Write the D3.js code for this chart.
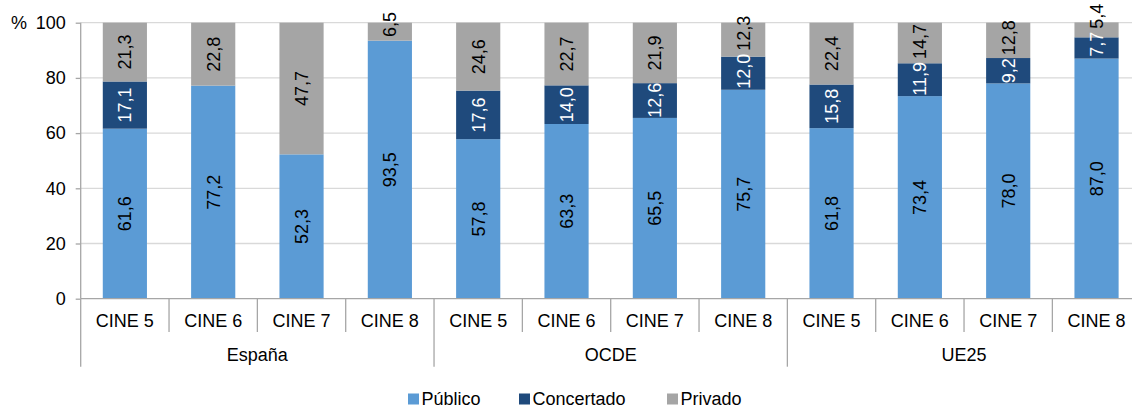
<!DOCTYPE html>
<html><head><meta charset="utf-8">
<script src="https://cdn.jsdelivr.net/npm/d3@7"></script>
<style>
html,body{margin:0;padding:0;background:#fff;}
svg{display:block;font-family:"Liberation Sans",Arial,sans-serif;}
</style></head>
<body><svg id="c" width="1132" height="409"></svg>
<script>
const groups = ["España","OCDE","UE25"];
const levels = ["CINE 5","CINE 6","CINE 7","CINE 8"];
const seriesNames = ["Público","Concertado","Privado"];
const publico    = [61.6,77.2,52.3,93.5, 57.8,63.3,65.5,75.7, 61.8,73.4,78.0,87.0];
const concertado = [17.1,null,null,null, 17.6,14.0,12.6,12.0, 15.8,11.9,9.2,7.7];
const privado    = [21.3,22.8,47.7,6.5, 24.6,22.7,21.9,12.3, 22.4,14.7,12.8,5.4];
const yTicks = [0,20,40,60,80,100];

const colors = ["#5B9BD5","#1F4A7C","#A5A5A5"];
const labelColors = ["#000","#fff","#000"];
const FS = 18;

const svg = d3.select("#c");
const pLeft = 80.7, pRight = 1140.7, pTop = 22.7, pBottom = 298.7;

const keys = [];
groups.forEach(g => levels.forEach(l => keys.push(g + "|" + l)));
const rows = keys.map((k,i) => ({key:k, group:k.split("|")[0], level:k.split("|")[1],
  vals:[publico[i], concertado[i], privado[i]]}));

const x = d3.scaleBand().domain(keys).range([pLeft,pRight]).paddingInner(0.5).paddingOuter(0.25);
const y = d3.scaleLinear().domain([0,100]).range([pBottom,pTop]);

// gridlines
svg.append("g").selectAll("line").data(yTicks.filter(t=>t>0)).join("line")
  .attr("x1",pLeft).attr("x2",pRight).attr("y1",d=>y(d)).attr("y2",d=>y(d))
  .attr("stroke","#D9D9D9").attr("stroke-width",1.3);

// y axis
const yAxis = d3.axisLeft(y).tickValues(yTicks).tickSize(5).tickPadding(10);
const yg = svg.append("g").attr("transform",`translate(${pLeft},0)`).call(yAxis);
yg.select(".domain").remove();
yg.selectAll(".tick line").attr("stroke","#A6A6A6").attr("stroke-width",1.3);
yg.selectAll(".tick text").attr("font-size",FS).attr("fill","#000").attr("font-family","Liberation Sans, Arial, sans-serif");
svg.append("text").attr("x",11).attr("y",y(100)).attr("dy","0.35em").attr("font-size",FS).text("%");

// stacked segments
const fmt = v => v.toFixed(1).replace(".", ",");
const segs = [];
rows.forEach(r => {
  let acc = 0;
  r.vals.forEach((v,si) => {
    if (v == null) return;
    segs.push({key:r.key, si, y0:acc, y1:acc+v, v});
    acc += v;
  });
});
svg.append("g").selectAll("rect").data(segs).join("rect")
  .attr("x",d=>x(d.key)).attr("width",x.bandwidth())
  .attr("y",d=>y(d.y1)).attr("height",d=>y(d.y0)-y(d.y1))
  .attr("fill",d=>colors[d.si]);

// data labels (centered; top label nudged up when cramped)
const labels = svg.append("g").selectAll("text").data(segs).join("text")
  .attr("text-anchor","middle").attr("dy","0.35em")
  .attr("font-size",FS).attr("fill",d=>labelColors[d.si])
  .text(d=>fmt(d.v));
labels.each(function(d){ d.len = this.getComputedTextLength(); d.cy = y((d.y0+d.y1)/2); });
d3.group(segs, d=>d.key).forEach(list => {
  for (let i = 1; i < list.length; i++) {
    const lo = list[i-1], hi = list[i];
    const segH = y(hi.y0) - y(hi.y1);
    if (hi.len > segH) hi.cy -= (hi.len - segH);
    const need = (lo.len + hi.len)/2 + 3;
    if (lo.cy - hi.cy < need) hi.cy = lo.cy - need;
  }
});
labels.attr("transform",d=>`translate(${x(d.key)+x.bandwidth()/2},${d.cy}) rotate(-90)`);

// x axis lines
const axisCol = "#A6A6A6";
svg.append("line").attr("x1",pLeft).attr("x2",pRight).attr("y1",pBottom).attr("y2",pBottom)
  .attr("stroke",axisCol).attr("stroke-width",1.3);
svg.append("line").attr("x1",pLeft).attr("x2",pLeft).attr("y1",pTop).attr("y2",pBottom)
  .attr("stroke",axisCol).attr("stroke-width",1.3);
const step = x.step();
const lvl1 = 332, lvl2 = 366.7;
const boundaries = d3.range(keys.length+1).map(i => pLeft + i*step);
svg.append("g").selectAll("line").data(boundaries).join("line")
  .attr("x1",d=>d).attr("x2",d=>d).attr("y1",pBottom)
  .attr("y2",(d,i)=> (i % levels.length === 0) ? lvl2 : lvl1)
  .attr("stroke",axisCol).attr("stroke-width",1.3);

// category labels
svg.append("g").selectAll("text").data(rows).join("text")
  .attr("x",d=>x(d.key)+x.bandwidth()/2).attr("y",320.5).attr("dy","0.35em")
  .attr("text-anchor","middle").attr("font-size",FS).text(d=>d.level);
// group labels
svg.append("g").selectAll("text").data(groups).join("text")
  .attr("x",(g,i)=> pLeft + (i*levels.length + levels.length/2)*step).attr("y",355).attr("dy","0.35em")
  .attr("text-anchor","middle").attr("font-size",FS).text(d=>d);

// legend
const legX = [408, 519, 667];
const lg = svg.append("g").selectAll("g").data(seriesNames).join("g")
  .attr("transform",(d,i)=>`translate(${legX[i]},399)`);
lg.append("rect").attr("x",0).attr("y",-5.5).attr("width",11).attr("height",11).attr("fill",(d,i)=>colors[i]);
lg.append("text").attr("x",13.5).attr("dy","0.35em").attr("font-size",FS).text(d=>d);
</script>
</body></html>
